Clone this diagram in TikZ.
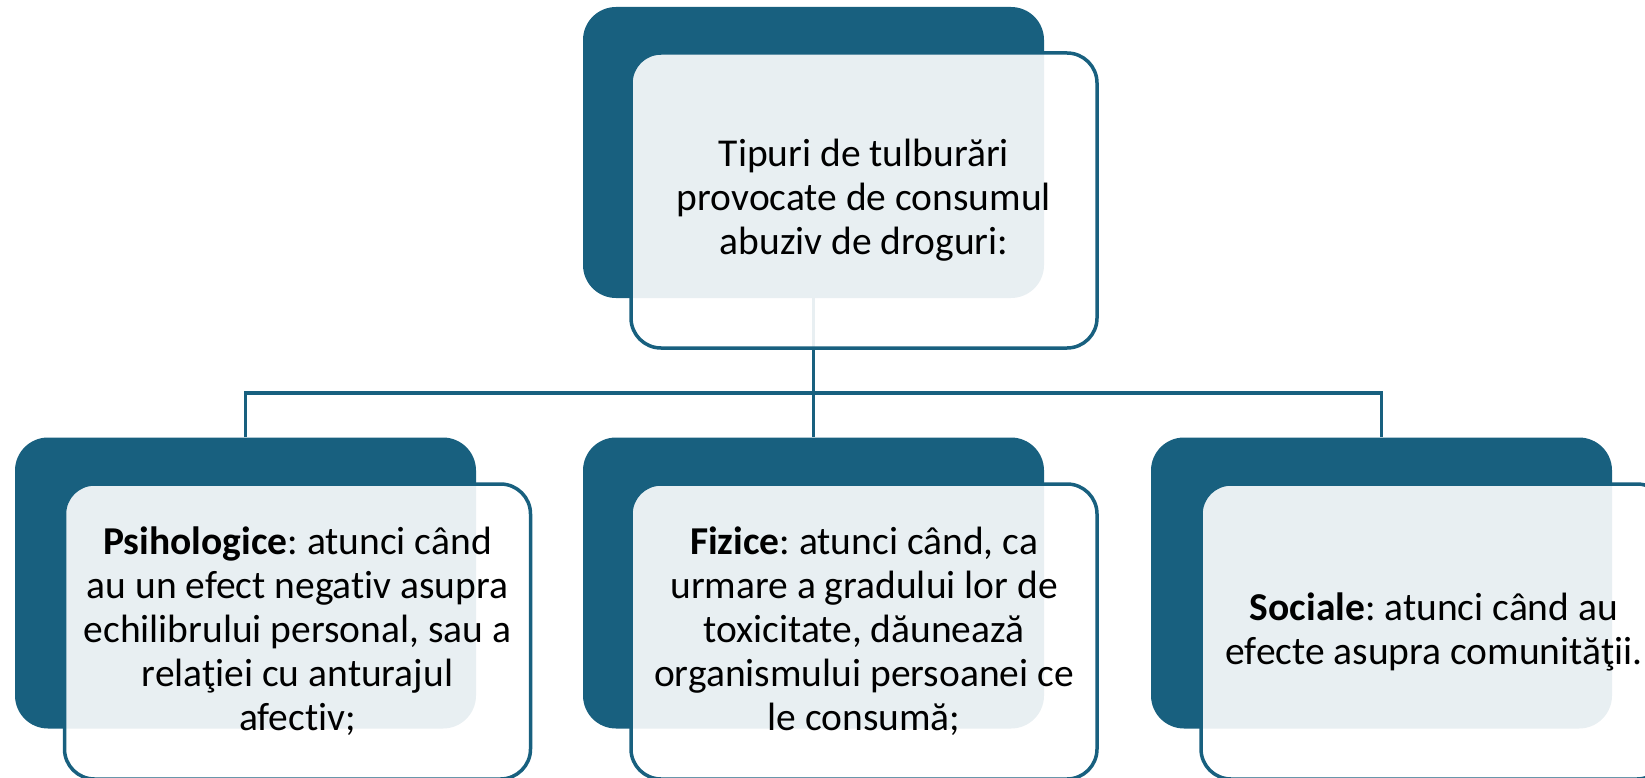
\documentclass[tikz,border=0pt]{standalone}
\usepackage{fontspec}
\setmainfont[Ligatures={NoCommon}]{Carlito}
\usetikzlibrary{positioning}
\definecolor{hdblue}{HTML}{18607F}
\tikzset{
  darkbox/.style={draw=none, fill=hdblue, rounded corners=33pt, minimum width=461pt, minimum height=291pt, inner sep=0pt},
  lightbox/.style={draw=hdblue, line width=3.5pt, fill=white, fill opacity=0.9, text opacity=1, rounded corners=30pt, minimum width=466pt, minimum height=295pt, inner sep=0pt, align=center, font=\fontsize{39.5}{44}\selectfont\frenchspacing},
  conn/.style={draw=hdblue, line width=3.5pt}
}
\begin{document}
\begin{tikzpicture}[x=1pt, y=-1pt]
\useasboundingbox (0,0) rectangle (1645,778);

% back boxes
\node[darkbox] (top) at (813.5,152.5) {};
\node[darkbox] (left) at (245.5,583) {};
\node[darkbox] (mid) at (813.5,583) {};
\node[darkbox] (right) at (1381.5,583) {};

% connectors
\coordinate (split) at (813.5,393);
\draw[conn] (top.south) -- (mid.north);
\draw[conn] (left.north) |- (split) -| (right.north);

% front boxes
\node[lightbox] (topt) at (864,200.5) {Tipuri de tulburări\\provocate de consumul\\abuziv de droguri:};
\node[lightbox] (leftt) at (297.5,631.5) {\textbf{Psihologice}: atunci când\\au un efect negativ asupra\\echilibrului personal, sau a\\relaţiei cu anturajul\\afectiv;};
\node[lightbox] (midt) at (864,631.5) {\textbf{Fizice}: atunci când, ca\\urmare a gradului lor de\\toxicitate, dăunează\\organismului persoanei ce\\le consumă;};
\node[lightbox] (rightt) at (1434,631.5) {\textbf{Sociale}: atunci când au\\efecte asupra comunităţii.};

\end{tikzpicture}
\end{document}
